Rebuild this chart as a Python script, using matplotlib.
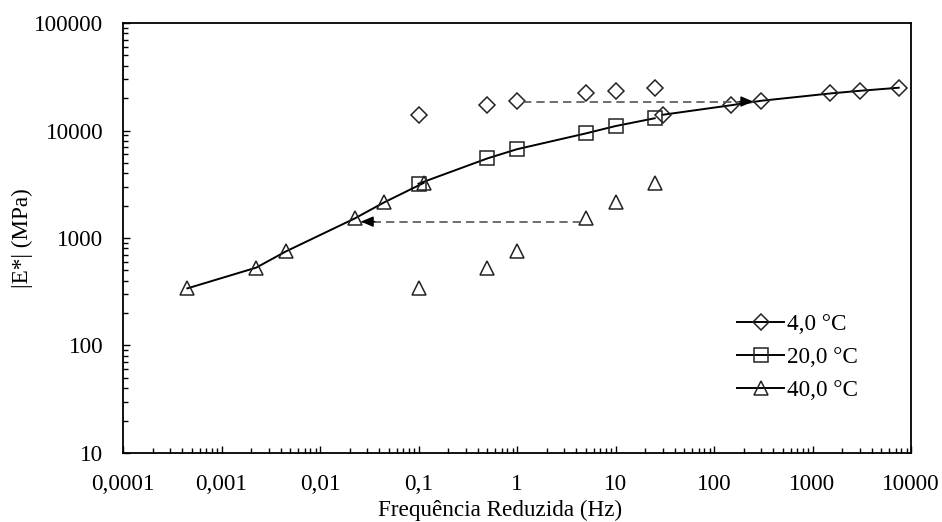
import numpy as np
import matplotlib
matplotlib.use("Agg")
import matplotlib.pyplot as plt
from matplotlib.ticker import FixedLocator, FixedFormatter, LogLocator, NullFormatter

plt.rcParams['font.family'] = ['Liberation Serif', 'DejaVu Serif']

# raw test frequencies (Hz)
freq = [0.1, 0.5, 1, 5, 10, 25]

# |E*| (MPa)
e_4c = [14000, 17200, 18900, 22100, 23400, 25000]
e_20c = [3200, 5500, 6700, 9400, 11000, 13000]
e_40c = [340, 530, 750, 1520, 2150, 3250]

# reduced frequencies after shifting to 20 C
f_4c_red = [30, 150, 300, 1500, 3000, 7500]
f_40c_red = [0.00045, 0.00225, 0.0045, 0.0225, 0.045, 0.1125]

# dashed shift arrows: (start x, tip x), y
arrow_4c_x = [1.15, 250]
arrow_4c_y = 18600
arrow_40c_x = [4.5, 0.026]
arrow_40c_y = 1420

xticks = [0.0001, 0.001, 0.01, 0.1, 1, 10, 100, 1000, 10000]
xlabels = ['0,0001', '0,001', '0,01', '0,1', '1', '10', '100', '1000', '10000']
yticks = [10, 100, 1000, 10000, 100000]
ylabels = ['10', '100', '1000', '10000', '100000']

fs = 16.7

fig = plt.figure(figsize=(9.42, 5.22), dpi=100)
ax = fig.add_axes([0.1306, 0.1322, 0.8365, 0.8237])

mk = dict(mfc='none', mec='#222222', mew=1.1, color='black', lw=1.4)

# raw points (no line)
ax.plot(freq, e_4c, ls='none', marker='D', ms=8, mfc='none', mec='#222222', mew=1.1)
ax.plot(freq, e_40c, ls='none', marker='^', ms=10.5, mfc='none', mec='#222222', mew=1.1)

# shifted series, forming the master curve
ax.plot(f_4c_red, e_4c, marker='D', ms=8, label='4,0 °C', **mk)
ax.plot(freq, e_20c, marker='s', ms=10.5, label='20,0 °C', **mk)
ax.plot(f_40c_red, e_40c, marker='^', ms=10.5, label='40,0 °C', **mk)

# shift arrows
for xs, y in [(arrow_4c_x, arrow_4c_y), (arrow_40c_x, arrow_40c_y)]:
    ax.plot(xs, [y, y], color='#555555', lw=1.2, ls=(0, (5, 3)))
    ax.annotate('', xy=(xs[1], y), xytext=(-10 if xs[1] > xs[0] else 10, 0),
                textcoords='offset points',
                arrowprops=dict(arrowstyle='-|>,head_length=0.75,head_width=0.32',
                                color='black', lw=1, shrinkA=0, shrinkB=0))

ax.set_xscale('log')
ax.set_yscale('log')
ax.set_xlim(0.0001, 10000)
ax.set_ylim(10, 100000)

ax.xaxis.set_major_locator(FixedLocator(xticks))
ax.xaxis.set_major_formatter(FixedFormatter(xlabels))
ax.yaxis.set_major_locator(FixedLocator(yticks))
ax.yaxis.set_major_formatter(FixedFormatter(ylabels))
for axis in (ax.xaxis, ax.yaxis):
    axis.set_minor_locator(LogLocator(base=10, subs=np.arange(2, 10), numticks=20))
    axis.set_minor_formatter(NullFormatter())

ax.tick_params(which='both', direction='in', top=False, right=False,
               labelsize=fs, colors='black', width=1)
ax.tick_params(which='major', length=5)
ax.tick_params(which='minor', length=3.5)
ax.tick_params(axis='y', which='major', pad=14)
ax.tick_params(axis='x', which='major', pad=15)

for s in ax.spines.values():
    s.set_linewidth(1.3)

ax.set_xlabel('Frequência Reduzida (Hz)', fontsize=fs)
ax.xaxis.set_label_coords(0.478, -0.11, transform=ax.transAxes)
ax.set_ylabel('|E*| (MPa)', fontsize=fs)
ax.yaxis.set_label_coords(-0.114, 0.5, transform=ax.transAxes)

ax.legend(loc='upper left', bbox_to_anchor=(0.765, 0.35), frameon=False,
          fontsize=fs, handlelength=2.0, handletextpad=0.15, labelspacing=0.5,
          borderpad=0)

fig.savefig('out.png', dpi=100)
